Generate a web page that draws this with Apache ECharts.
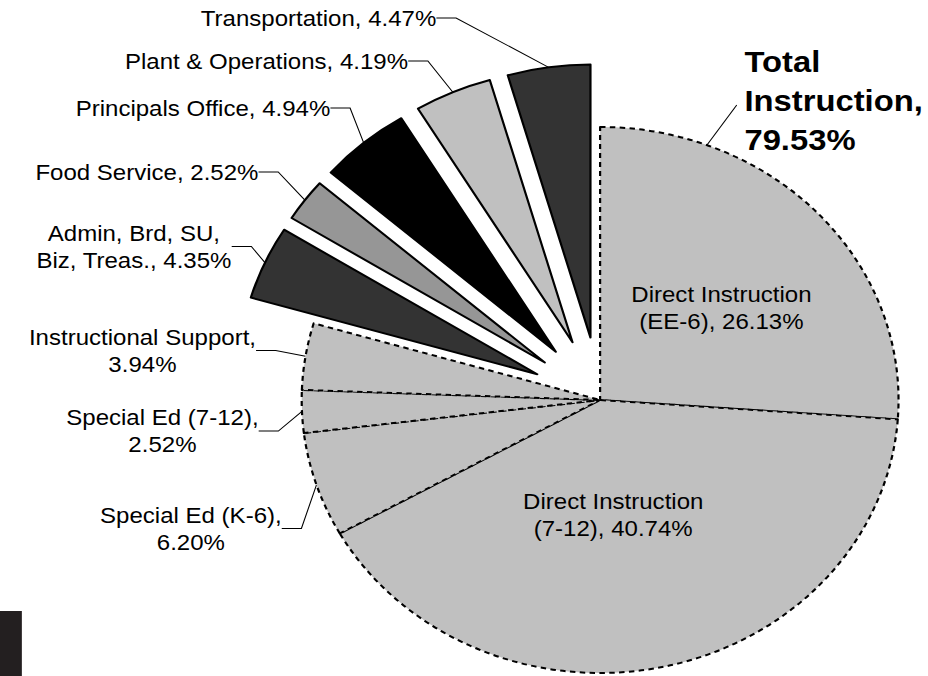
<!DOCTYPE html>
<html>
<head>
<meta charset="utf-8">
<script src="https://cdn.jsdelivr.net/npm/echarts@6/dist/echarts.min.js"></script>
<style>
html, body { margin: 0; padding: 0; background: #fff; overflow: hidden; }
/* the source picture is stretched sideways, so the chart is drawn narrower and stretched */
#main { width: 849px; height: 676px; transform: scaleX(1.0931); transform-origin: 0 0; }
</style>
</head>
<body>
<div id="main"></div>
<script>
// slices, clockwise from 12 o'clock
var categories = [
  'Direct Instruction\n(EE-6)',
  'Direct Instruction\n(7-12)',
  'Special Ed (K-6)',
  'Special Ed (7-12)',
  'Instructional Support',
  'Admin, Brd, SU,\nBiz, Treas.',
  'Food Service',
  'Principals Office',
  'Plant & Operations',
  'Transportation'
]
var values = [26.13, 40.74, 6.20, 2.52, 3.94, 4.35, 2.52, 4.94, 4.19, 4.47]
var isInstruction = [true, true, true, true, true, false, false, false, false, false]
var wrapValue = [false, false, true, true, true, false, false, false, false, false]
var sliceColors = ['#c0c0c0', '#c0c0c0', '#c0c0c0', '#c0c0c0', '#c0c0c0',
  '#333333', '#969696', '#000000', '#c0c0c0', '#333333']

// label centres (chart px, before the stretch)
var labelPos = [
  [660, 308], [561, 515], [174.6, 528.5], [148.6, 431], [130.3, 350.5],
  [122.5, 246.5], [134.4, 172], [185.7, 108], [243.8, 61], [291.4, 18]
]

var fontName = 'Liberation Sans, Arial, sans-serif'
var cx = 549, cy = 400, R = 273, explodeDist = 63
var myChart = echarts.init(document.getElementById('main'), null, { renderer: 'svg' })

var total = 0, totalInstruction = 0
values.forEach(function (v, i) {
  total += v
  if (isInstruction[i]) totalInstruction += v
})

var hidden = {
  itemStyle: { color: 'rgba(0,0,0,0)', borderWidth: 0 },
  label: { show: false },
  labelLine: { show: false }
}

function sliceItem (i) {
  var inside = i < 2
  return {
    name: categories[i],
    value: values[i],
    idx: i,
    itemStyle: {
      color: sliceColors[i],
      borderColor: '#000',
      borderWidth: 2,
      borderType: isInstruction[i] ? [5, 4] : 'solid'
    },
    label: { show: true, position: inside ? 'inside' : 'outside' },
    labelLine: { show: !inside }
  }
}

function labelFormatter (p) {
  var i = p.data.idx
  return categories[i] + ',' + (wrapValue[i] ? '\n' : ' ') + values[i].toFixed(2) + '%'
}

function makeLabelLayout (fixedIdx) {
  return function (params) {
    var i = fixedIdx != null ? fixedIdx : params.dataIndex
    var p = labelPos[i]
    return { x: p[0], y: p[1], align: 'center', verticalAlign: 'middle' }
  }
}

var baseSeries = {
  type: 'pie',
  radius: R,
  clockwise: true,
  silent: true,
  avoidLabelOverlap: false,
  emphasis: { disabled: true },
  label: {
    color: '#000',
    fontSize: 22,
    lineHeight: 27,
    fontFamily: fontName,
    formatter: labelFormatter
  },
  labelLine: {
    length: 10,
    length2: 18,
    smooth: false,
    lineStyle: { color: '#000', width: 1 }
  }
}

// instruction slices in place, the others left as gaps
var series = [
  echarts.util.merge({
    center: [cx, cy],
    startAngle: 90,
    labelLayout: makeLabelLayout(null),
    data: categories.map(function (name, i) {
      if (isInstruction[i]) return sliceItem(i)
      return echarts.util.extend({ name: name, value: values[i], idx: i }, hidden)
    })
  }, baseSeries)
]

// each non-instruction slice pulled out along its own middle angle
var before = 0
values.forEach(function (v, i) {
  if (!isInstruction[i]) {
    var mid = (before + v / 2) / total * 2 * Math.PI
    series.push(echarts.util.merge({
      center: [cx + explodeDist * Math.sin(mid), cy - explodeDist * Math.cos(mid)],
      startAngle: 90 - before / total * 360,
      labelLayout: makeLabelLayout(i),
      data: [
        sliceItem(i),
        echarts.util.extend({ name: '', value: total - v, idx: i }, hidden)
      ]
    }, baseSeries))
  }
  before += v
})

var option = {
  animation: false,
  title: {
    text: 'Total\nInstruction,\n' + totalInstruction.toFixed(2) + '%',
    left: 681,
    top: 42,
    padding: 0,
    textStyle: {
      fontSize: 30,
      fontWeight: 'bold',
      lineHeight: 39,
      color: '#000',
      fontFamily: fontName
    }
  },
  graphic: [
    {
      type: 'line',
      shape: { x1: 674, y1: 105, x2: 642, y2: 152 },
      style: { stroke: '#000', lineWidth: 1 }
    },
    {
      type: 'rect',
      shape: { x: 0, y: 611, width: 20, height: 65 },
      style: { fill: '#231f20' }
    }
  ],
  series: series
}

myChart.setOption(option)
</script>
</body>
</html>
